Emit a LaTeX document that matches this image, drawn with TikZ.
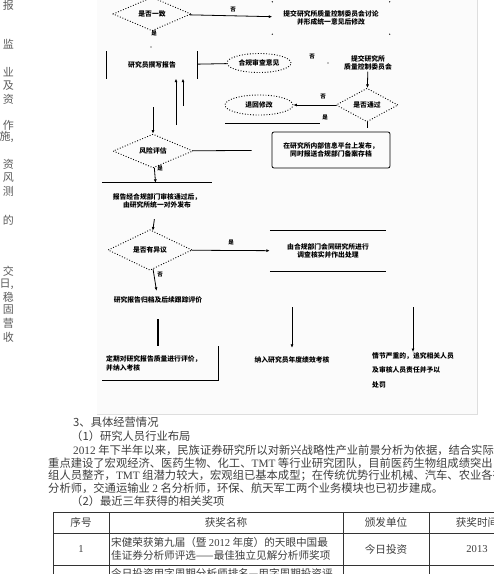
\documentclass[tikz,border=0pt]{standalone}
\usepackage{fontspec}
\setmainfont{Liberation Serif}
\newfontfamily\cjk{Noto Sans CJK SC}
\usetikzlibrary{positioning, arrows.meta, shapes.geometric}
\definecolor{panelbg}{RGB}{251,251,251}
\definecolor{panelrim}{RGB}{222,222,222}
\definecolor{inkgray}{RGB}{62,62,62}
\newcommand{\lat}[1]{{\rmfamily #1}}

\begin{document}
\begin{tikzpicture}[x=1pt, y=-1pt,
  flow/.style={font=\cjk\bfseries\fontsize{6.8}{8.4}\selectfont, inner sep=1pt, align=center},
  decide/.style={flow, shape=diamond, draw, line width=0.9pt, dash pattern=on 0.9pt off 1.8pt, inner sep=0pt},
  oval/.style={flow, shape=ellipse, draw, line width=0.9pt, dash pattern=on 0.9pt off 1.8pt, inner sep=0pt},
  lbl/.style={font=\cjk\bfseries\fontsize{5.5}{6}\selectfont, inner sep=0.5pt},
  arr/.style={line width=0.8pt, -{Latex[length=3.5pt,width=3pt]}},
  bar/.style={line width=0.8pt},
  body/.style={font=\cjk\fontsize{11.3}{12.5}\selectfont, text=inkgray, inner sep=0pt, anchor=west},
  cell/.style={font=\cjk\fontsize{10.6}{12.6}\selectfont, text=inkgray, inner sep=0pt},
  scrap/.style={font=\cjk\fontsize{11}{12}\selectfont, text=inkgray!85, inner sep=0pt, anchor=east},
  tab/.style={line width=0.6pt, black!80}]
\useasboundingbox (0,0) rectangle (494,574);
\fill[white] (0,0) rectangle (494,574);
\fill[panelbg] (97,-2) rectangle (477,414);
\draw[panelrim, line width=1pt] (477,-2) -- (477,414) -- (97,414);

% cut column on the left
\foreach \ch/\yy in {报/5, 监/44, 业/72, 及/86, 资/99, 作/125, {施,}/137, 资/164, 风/178, 测/191, 的/220, 交/271, {日,}/284, 稳/297, 固/310, 营/323, 收/337}
  \node[scrap] at (14,\yy) {\ch};

% flow chart
\node[decide, minimum width=78pt, minimum height=30pt] (judge) at (152,14) {是否一致};
\node[flow, minimum width=117pt, minimum height=32pt] (council) at (331,18) {提交研究所质量控制委员会讨论\\并形成统一意见后修改};
\foreach \c in {north west, north east, south west, south east}
  \fill (council.\c) circle (0.7pt);
\draw[arr] (judge) -- (council);
\node[lbl] (judgeN) at (233,10) {否};
\node[lbl] (judgeY) at (154,33) {是};
\fill (151,47) circle (0.7pt);

\node[flow, minimum width=90pt, minimum height=27pt] (write) at (152,65) {研究员撰写报告};
\draw[bar] (write.north west) -- (write.south west) (write.north east) -- (write.south east);
\node[oval, minimum width=64pt, minimum height=19pt] (advice) at (259,63) {合规审查意见};
\draw[bar] (advice) -- (write);
\node[lbl] (adviceN) at (312,57) {否};
\fill (328,63) circle (0.7pt);

\node[flow] (review) at (368,63) {提交研究所\\质量控制委员会};
\node[decide, minimum width=62pt, minimum height=26pt] (recheck) at (367,105) {是否通过};
\node[oval, minimum width=68pt, minimum height=20pt] (revise) at (259,105) {退回修改};
\draw[arr] (review) -- (recheck);
\draw[arr] (recheck) -- (revise);
\node[lbl] (recheckN) at (323,97) {否};
\node[lbl] (recheckY) at (325,117) {是};
\draw[bar] (recheck.south) -- ++(0,6);
\draw[bar] (225,123) -- (320,123);

\coordinate (upA) at (176,125);
\coordinate (upB) at (183,106);
\draw[arr] (upA) -- (upA |- write.south);
\draw[arr] (upB) -- (upB |- write.south);

\node[decide, minimum width=80pt, minimum height=24pt] (risk) at (153,151) {风险评估};
\coordinate (downA) at (153,107);
\draw[arr] (downA) -- (risk);
\node[flow, draw, bar, rounded corners=2pt, minimum width=118pt, minimum height=36pt] (publish) at (331,150) {在研究所内部信息平台上发布，\\同时报送合规部门备案存档};
\draw[bar, shorten >=20pt] (risk) -- (publish);

\node[flow, minimum width=110pt, minimum height=36pt] (release) at (157,201) {报告经合规部门审核通过后，\\由研究所统一对外发布};
\draw[bar] (release.north west) -- (release.north east);
\draw[arr] (risk) -- (release);
\node[lbl] (riskY) at (160,168) {是};

\node[decide, minimum width=84pt, minimum height=25pt] (check) at (150,250) {是否有异议};
\draw[arr] (release) -- (check);
\node[flow, minimum width=116pt, minimum height=41pt] (handle) at (328,251) {由合规部门会同研究所进行\\调查核实并作出处理};
\draw[bar] (handle.north west) -- (handle.north east) (handle.south west) -- (handle.south east);
\draw[arr] (check) -- (handle);
\node[lbl] (checkY) at (231,242) {是};

\node[flow, minimum height=18pt] (archive) at (158,300) {研究报告归档及后续跟踪评价};
\draw[arr] (check) -- (archive);
\node[lbl] (checkN) at (160,275) {否};

\node[flow, align=left, anchor=north west, text width=108pt, minimum height=34pt, inner xsep=4pt] (assess) at (102,346) {定期对研究报告质量进行评价，\\并纳入考核};
\draw[bar, line width=1.2pt, shorten <=10pt] (archive) -- (archive |- assess.north);
\draw[bar] (assess.north east) -- (assess.south east) -- (assess.south west);

\node[flow, minimum height=24pt] (bonus) at (292,360) {纳入研究员年度绩效考核};
\coordinate (feedA) at (292,307);
\draw[arr] (feedA) -- (bonus);
\node[flow, align=left, anchor=north west, inner sep=0pt, font=\cjk\bfseries\fontsize{6.8}{14.5}\selectfont] (punish) at (372,352) {情节严重的，追究相关人员\\及审核人员责任并予以\\处罚};
\coordinate (feedB) at (413,307);
\draw[arr] (feedB) -- (feedB |- punish.north);

% text below the picture
\node[body] (secTitle) at (73,422) {3、具体经营情况};
\node[body] (subOne) at (71,436) {（1）研究人员行业布局};
\node[body] (paraA) at (73,450) {\lat{2012} 年下半年以来，民族证券研究所以对新兴战略性产业前景分析为依据，结合实际};
\node[body] (paraB) at (48,463) {重点建设了宏观经济、医药生物、化工、\lat{TMT} 等行业研究团队，目前医药生物组成绩突出};
\node[body] (paraC) at (48,476) {组人员整齐，\lat{TMT} 组潜力较大，宏观组已基本成型；在传统优势行业机械、汽车、农业各有};
\node[body] (paraD) at (48,488) {分析师，交通运输业 \lat{2} 名分析师，环保、航天军工两个业务模块也已初步建成。};
\node[body] (subTwo) at (71,501) {（2）最近三年获得的相关奖项};

% table
\foreach \yy in {512, 533, 565}
  \draw[tab] (53,\yy) -- (500,\yy);
\foreach \xx in {53, 109, 343, 429}
  \draw[tab] (\xx,512) -- (\xx,580);
\node[cell] (hNo) at (81,522) {序号};
\node[cell] (hName) at (226,522) {获奖名称};
\node[cell] (hOrg) at (386,522) {颁发单位};
\node[cell] (hTime) at (477,522) {获奖时间};
\node[cell] (rNo) at (81,549) {\lat{1}};
\node[cell, anchor=west, align=left] (rName) at (111,549) {宋健荣获第九届（暨 \lat{2012} 年度）的天眼中国最\\佳证券分析师评选——最佳独立见解分析师奖项};
\node[cell] (rOrg) at (386,549) {今日投资};
\node[cell] (rTime) at (477,549) {\lat{2013}};
\node[cell, anchor=west] (sName) at (111,573) {今日投资用字周期分析师排名—用字周期投资评};
\end{tikzpicture}
\end{document}
